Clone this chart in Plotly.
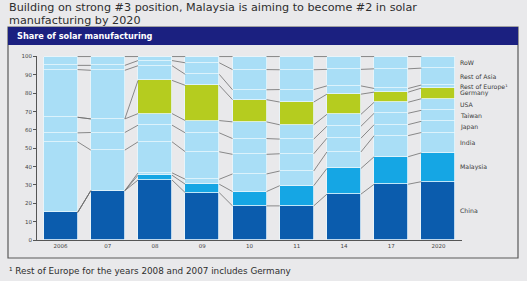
import plotly.graph_objects as go

years = ["2006", "07", "08", "09", "10", "11", "14", "17", "2020"]
series_names = ["China", "Malaysia", "India", "Japan", "Taiwan", "USA",
                "Germany", "Rest of Europe¹", "Rest of Asia", "RoW"]
china    = [15.0, 26.9, 32.7, 25.8, 18.6, 18.6, 25.0, 30.4, 31.8]
malaysia = [0.0, 0.0, 2.6, 4.6, 7.8, 11.0, 14.0, 15.0, 15.7]
india    = [0.0, 0.0, 1.3, 2.7, 9.6, 8.0, 9.0, 11.5, 11.1]
japan    = [38.5, 22.1, 16.9, 15.0, 10.7, 9.4, 7.5, 6.0, 6.1]
taiwan   = [4.9, 9.6, 9.1, 10.3, 8.6, 8.0, 6.5, 6.2, 6.0]
usa      = [8.5, 7.4, 6.3, 6.7, 9.1, 7.8, 6.5, 6.0, 6.3]
germany  = [0.0, 0.0, 18.1, 19.2, 12.1, 12.4, 11.0, 5.5, 5.8]
rest_eur = [26.0, 26.5, 8.0, 6.0, 5.4, 6.8, 4.5, 2.0, 1.7]
rest_asia= [2.3, 2.7, 2.8, 6.3, 11.0, 10.8, 9.0, 10.7, 9.2]
row      = [4.8, 4.8, 2.2, 3.4, 7.1, 7.2, 7.0, 6.7, 6.3]
y_ticks = [0, 10, 20, 30, 40, 50, 60, 70, 80, 90, 100]
title_lines = ["Building on strong #3 position, Malaysia is aiming to become #2 in solar",
               "manufacturing by 2020"]

series = [china, malaysia, india, japan, taiwan, usa, germany, rest_eur, rest_asia, row]
DARK = "#0b5cad"
MID = "#15a6e4"
LIGHT = "#a9def6"
GREEN = "#b5cc1f"
colors = [DARK, MID, LIGHT, LIGHT, LIGHT, LIGHT, GREEN, LIGHT, LIGHT, LIGHT]
FONT = "DejaVu Sans"

BW = 0.72
xs = list(range(len(years)))
fig = go.Figure()
for name, vals, col in zip(series_names, series, colors):
    fig.add_trace(go.Bar(x=xs, y=vals, name=name, width=BW,
                         marker=dict(color=col, line=dict(color="#e8f6fc", width=0.8)),
                         showlegend=False))

# cumulative boundaries
cums = []
run = [0.0] * len(years)
for vals in series:
    run = [r + v for r, v in zip(run, vals)]
    cums.append(list(run))

lx, ly = [], []
for c in cums:
    for i in range(len(years) - 1):
        lx += [i + BW / 2, i + 1 - BW / 2, None]
        ly += [c[i], c[i + 1], None]
fig.add_trace(go.Scatter(x=lx, y=ly, mode="lines",
                         line=dict(color="#6e6e6e", width=0.8),
                         hoverinfo="skip", showlegend=False))

# right-side labels at 2020 segment midpoints
last = len(years) - 1
prev = 0.0
for name, c in zip(series_names, cums):
    mid = (prev + c[last]) / 2
    prev = c[last]
    fig.add_annotation(x=last + BW / 2 + 0.06, y=mid, text=name, showarrow=False,
                       xanchor="left", yanchor="middle",
                       font=dict(family=FONT, size=6.2, color="#3a3a3a"))

L, R, T, B = 37, 462, 56, 240
W, H = 527, 281
def px(p):
    return (p - L) / (R - L)
def py(p):
    return (B - p) / (B - T)

fig.add_shape(type="rect", xref="paper", yref="paper",
              x0=px(8), x1=px(518), y0=py(258), y1=py(27),
              line=dict(color="#5a5a5a", width=1.2), fillcolor="rgba(0,0,0,0)", layer="below")
fig.add_shape(type="rect", xref="paper", yref="paper",
              x0=px(8), x1=px(518), y0=py(45), y1=py(27),
              line=dict(color="#1b2080", width=0), fillcolor="#1b2080", layer="below")

fig.add_annotation(xref="paper", yref="paper", x=px(15), y=py(36),
                   text="<b>Share of solar manufacturing</b>", showarrow=False,
                   xanchor="left", yanchor="middle",
                   font=dict(family=FONT, size=8.2, color="white"))
for k, line in enumerate(title_lines):
    fig.add_annotation(xref="paper", yref="paper", x=px(7), y=py(8 + 12 * k),
                       text=line, showarrow=False, xanchor="left", yanchor="middle",
                       font=dict(family=FONT, size=11.2, color="#2e2e2e"))
fig.add_annotation(xref="paper", yref="paper", x=px(7), y=py(271),
                   text="¹ Rest of Europe for the years 2008 and 2007 includes Germany",
                   showarrow=False, xanchor="left", yanchor="middle",
                   font=dict(family=FONT, size=8.8, color="#2e2e2e"))

fig.update_layout(
    width=W, height=H, barmode="stack", bargap=0,
    margin=dict(l=L, r=W - R, t=T, b=H - B, pad=0),
    paper_bgcolor="#e9e9eb", plot_bgcolor="#e9e9eb",
    font=dict(family=FONT, color="#444"),
    xaxis=dict(range=[-0.5, len(years) - 0.5], tickvals=xs, ticktext=years,
               showgrid=False, zeroline=False, showline=True, linecolor="#555",
               linewidth=1, ticks="", tickfont=dict(size=5.5, color="#444")),
    yaxis=dict(range=[0, 100.3], tickvals=y_ticks, showgrid=False, zeroline=False,
               showline=True, linecolor="#555", linewidth=1, ticks="outside",
               ticklen=3, tickcolor="#555", tickfont=dict(size=5.5, color="#444")),
)
fig.write_html("out.html")
